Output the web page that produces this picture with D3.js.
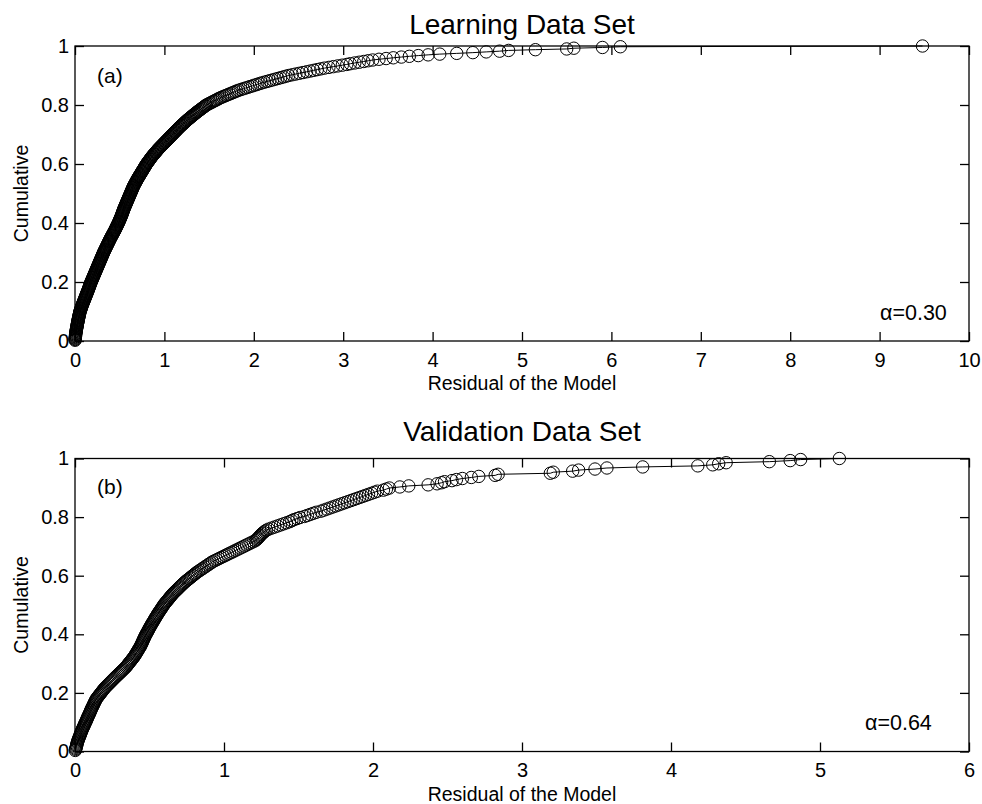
<!DOCTYPE html>
<html>
<head>
<meta charset="utf-8">
<script src="https://cdn.jsdelivr.net/npm/d3@7"></script>
<style>
  body { margin: 0; background: #fff; }
  text { font-family: "Liberation Sans", Arial, Helvetica, sans-serif; fill: #000; }
</style>
</head>
<body>
<div id="chart"></div>
<script>
// sorted residuals (cumulative = rank / n)
const learnResid = [
  0.001,0.002,0.002,0.003,0.004,0.005,0.006,0.006,0.007,0.008,
  0.009,0.011,0.012,0.014,0.015,0.016,0.018,0.019,0.021,0.022,
  0.024,0.025,0.027,0.028,0.030,0.032,0.033,0.035,0.036,0.038,
  0.040,0.042,0.043,0.045,0.047,0.049,0.051,0.052,0.054,0.056,
  0.059,0.062,0.065,0.068,0.071,0.073,0.076,0.079,0.082,0.085,
  0.088,0.092,0.095,0.098,0.102,0.105,0.108,0.111,0.115,0.118,
  0.121,0.124,0.128,0.131,0.134,0.137,0.140,0.144,0.147,0.150,
  0.153,0.156,0.159,0.162,0.165,0.168,0.171,0.174,0.177,0.180,
  0.184,0.187,0.191,0.194,0.198,0.201,0.205,0.208,0.212,0.215,
  0.219,0.222,0.226,0.229,0.233,0.236,0.240,0.243,0.247,0.250,
  0.254,0.257,0.261,0.264,0.268,0.271,0.275,0.278,0.282,0.285,
  0.289,0.292,0.296,0.299,0.303,0.306,0.310,0.313,0.317,0.320,
  0.324,0.328,0.332,0.336,0.340,0.344,0.348,0.352,0.356,0.360,
  0.364,0.368,0.372,0.376,0.380,0.384,0.388,0.392,0.396,0.400,
  0.405,0.409,0.414,0.418,0.423,0.427,0.432,0.436,0.441,0.445,
  0.449,0.453,0.457,0.461,0.465,0.469,0.473,0.477,0.481,0.485,
  0.489,0.492,0.496,0.499,0.503,0.506,0.510,0.513,0.517,0.520,
  0.523,0.526,0.529,0.532,0.535,0.538,0.541,0.544,0.547,0.550,
  0.554,0.557,0.561,0.564,0.568,0.571,0.575,0.578,0.582,0.585,
  0.589,0.592,0.596,0.599,0.603,0.606,0.610,0.613,0.617,0.620,
  0.624,0.627,0.631,0.634,0.638,0.641,0.645,0.648,0.652,0.655,
  0.660,0.664,0.669,0.673,0.678,0.682,0.687,0.691,0.696,0.700,
  0.705,0.710,0.715,0.720,0.725,0.730,0.735,0.740,0.745,0.750,
  0.755,0.760,0.765,0.770,0.775,0.780,0.785,0.790,0.795,0.800,
  0.806,0.812,0.818,0.824,0.830,0.836,0.842,0.848,0.854,0.860,
  0.867,0.874,0.881,0.888,0.895,0.902,0.909,0.916,0.923,0.930,
  0.938,0.946,0.954,0.962,0.970,0.978,0.986,0.994,1.002,1.010,
  1.018,1.026,1.034,1.042,1.050,1.058,1.066,1.074,1.082,1.090,
  1.098,1.106,1.114,1.122,1.130,1.138,1.146,1.154,1.162,1.170,
  1.179,1.188,1.197,1.206,1.215,1.224,1.233,1.242,1.251,1.260,
  1.270,1.280,1.290,1.300,1.310,1.320,1.330,1.340,1.350,1.360,
  1.371,1.382,1.393,1.404,1.415,1.426,1.437,1.448,1.459,1.470,
  1.486,1.502,1.518,1.534,1.550,1.566,1.582,1.598,1.614,1.630,
  1.650,1.670,1.690,1.710,1.730,1.750,1.770,1.790,1.810,1.830,
  1.856,1.882,1.908,1.934,1.960,1.986,2.012,2.038,2.064,2.090,
  2.120,2.150,2.180,2.210,2.240,2.270,2.300,2.330,2.360,2.390,
  2.430,2.470,2.510,2.550,2.590,2.630,2.670,2.710,2.750,2.790,
  2.840,2.890,2.940,2.990,3.040,3.080,3.130,3.180,3.230,3.280,
  3.330,3.400,3.480,3.560,3.650,3.740,3.840,3.950,4.080,4.270,
  4.450,4.600,4.750,4.850,5.150,5.500,5.580,5.900,6.100,9.480
];

const validResid = [
  0.002,0.004,0.006,0.008,0.010,0.011,0.013,0.015,0.017,0.019,
  0.022,0.024,0.027,0.030,0.033,0.035,0.038,0.041,0.043,0.046,
  0.049,0.052,0.056,0.059,0.062,0.065,0.068,0.072,0.075,0.078,
  0.081,0.084,0.087,0.090,0.094,0.097,0.100,0.103,0.106,0.109,
  0.112,0.116,0.119,0.123,0.126,0.129,0.133,0.136,0.140,0.143,
  0.149,0.154,0.160,0.165,0.171,0.176,0.182,0.187,0.193,0.198,
  0.205,0.212,0.219,0.226,0.233,0.240,0.247,0.254,0.261,0.268,
  0.275,0.283,0.290,0.297,0.305,0.312,0.319,0.326,0.334,0.341,
  0.347,0.352,0.358,0.363,0.369,0.375,0.380,0.386,0.391,0.397,
  0.401,0.406,0.410,0.414,0.419,0.423,0.427,0.431,0.436,0.440,
  0.443,0.446,0.450,0.453,0.456,0.459,0.462,0.466,0.469,0.472,
  0.476,0.480,0.484,0.488,0.492,0.495,0.499,0.503,0.507,0.511,
  0.515,0.519,0.524,0.528,0.532,0.536,0.540,0.545,0.549,0.553,
  0.558,0.562,0.567,0.572,0.577,0.581,0.586,0.591,0.595,0.600,
  0.606,0.612,0.618,0.624,0.630,0.635,0.641,0.647,0.653,0.659,
  0.666,0.673,0.681,0.688,0.695,0.702,0.709,0.717,0.724,0.731,
  0.740,0.748,0.757,0.766,0.775,0.783,0.792,0.801,0.809,0.818,
  0.829,0.839,0.850,0.860,0.871,0.881,0.892,0.902,0.913,0.923,
  0.937,0.952,0.966,0.980,0.995,1.009,1.023,1.037,1.052,1.066,
  1.080,1.095,1.109,1.124,1.138,1.152,1.167,1.181,1.196,1.210,
  1.218,1.225,1.232,1.238,1.244,1.250,1.258,1.266,1.275,1.285,
  1.300,1.320,1.340,1.360,1.380,1.400,1.420,1.440,1.455,1.470,
  1.490,1.510,1.540,1.560,1.580,1.600,1.620,1.650,1.670,1.690,
  1.710,1.730,1.750,1.770,1.790,1.810,1.830,1.850,1.870,1.890,
  1.910,1.930,1.950,1.970,1.990,2.010,2.030,
  2.070,2.090,2.110,2.180,2.240,2.370,2.430,2.460,2.480,2.530,
  2.560,2.600,2.660,2.710,2.820,2.840,3.190,3.210,3.340,3.380,
  3.490,3.570,3.810,4.180,4.280,4.320,4.370,4.660,4.800,4.870,
  5.130
];

const learnXTicks = [0,1,2,3,4,5,6,7,8,9,10];
const validXTicks = [0,1,2,3,4,5,6];
const yTicks = [0,0.2,0.4,0.6,0.8,1];

const panels = [
  { resid: learnResid, xMax: 10, xTicks: learnXTicks, top: 46, bottom: 341,
    title: "Learning Data Set", tag: "(a)", note: "α=0.30",
    titleY: 34, tagY: 83, noteX: 880, noteY: 320, xLabelY: 390 },
  { resid: validResid, xMax: 6, xTicks: validXTicks, top: 458.5, bottom: 751.5,
    title: "Validation Data Set", tag: "(b)", note: "α=0.64",
    titleY: 441, tagY: 494, noteX: 865, noteY: 730, xLabelY: 801 }
];

const left = 75, right = 969, tick = 9;

const svg = d3.select("#chart")
  .append("svg")
  .attr("width", 982)
  .attr("height", 804);

panels.forEach(p => {
  const n = p.resid.length;
  const data = p.resid.map((r, i) => ({ r: r, c: (i + 1) / n }));

  const x = d3.scaleLinear().domain([0, p.xMax]).range([left, right]);
  const y = d3.scaleLinear().domain([0, 1]).range([p.bottom, p.top]);

  const g = svg.append("g");

  // curve + markers
  g.append("path")
    .datum(data)
    .attr("fill", "none")
    .attr("stroke", "#000")
    .attr("stroke-width", 1)
    .attr("d", d3.line().x(d => x(d.r)).y(d => y(d.c)));

  g.append("g")
    .selectAll("circle")
    .data(data)
    .join("circle")
    .attr("cx", d => x(d.r))
    .attr("cy", d => y(d.c))
    .attr("r", 6.2)
    .attr("fill", "none")
    .attr("stroke", "#000")
    .attr("stroke-width", 1);

  // axes, ticks inside (matlab style)
  const bottomAx = g.append("g")
    .attr("transform", `translate(0,${p.bottom})`)
    .call(d3.axisBottom(x).tickValues(p.xTicks).tickSizeInner(-tick).tickSizeOuter(0).tickPadding(11.5).tickFormat(d3.format("d")));
  const topAx = g.append("g")
    .attr("transform", `translate(0,${p.top})`)
    .call(d3.axisTop(x).tickValues(p.xTicks).tickSizeInner(-tick).tickSizeOuter(0).tickFormat(""));
  const leftAx = g.append("g")
    .attr("transform", `translate(${left},0)`)
    .call(d3.axisLeft(y).tickValues(yTicks).tickSizeInner(-tick).tickSizeOuter(0).tickPadding(6).tickFormat(d => String(d)));
  const rightAx = g.append("g")
    .attr("transform", `translate(${right},0)`)
    .call(d3.axisRight(y).tickValues(yTicks).tickSizeInner(-tick).tickSizeOuter(0).tickFormat(""));

  [bottomAx, topAx, leftAx, rightAx].forEach(a => {
    a.select(".domain").remove();
    a.selectAll("line").attr("stroke", "#000").attr("stroke-width", 1.3);
    a.selectAll("text").style("font-size", "20px").attr("fill", "#000")
      .style("font-family", "'Liberation Sans', Arial, Helvetica, sans-serif");
  });

  g.append("rect")
    .attr("x", left)
    .attr("y", p.top)
    .attr("width", right - left)
    .attr("height", p.bottom - p.top)
    .attr("fill", "none")
    .attr("stroke", "#000")
    .attr("stroke-width", 1.3);

  // texts
  g.append("text")
    .attr("x", (left + right) / 2)
    .attr("y", p.titleY)
    .attr("text-anchor", "middle")
    .style("font-size", "28px")
    .text(p.title);

  g.append("text")
    .attr("x", (left + right) / 2)
    .attr("y", p.xLabelY)
    .attr("text-anchor", "middle")
    .style("font-size", "19.5px")
    .text("Residual of the Model");

  g.append("text")
    .attr("transform", `translate(28,${(p.top + p.bottom) / 2}) rotate(-90)`)
    .attr("text-anchor", "middle")
    .style("font-size", "19.5px")
    .text("Cumulative");

  g.append("text")
    .attr("x", 97)
    .attr("y", p.tagY)
    .style("font-size", "21px")
    .text(p.tag);

  g.append("text")
    .attr("x", p.noteX)
    .attr("y", p.noteY)
    .style("font-size", "21.5px")
    .text(p.note);
});
</script>
</body>
</html>
